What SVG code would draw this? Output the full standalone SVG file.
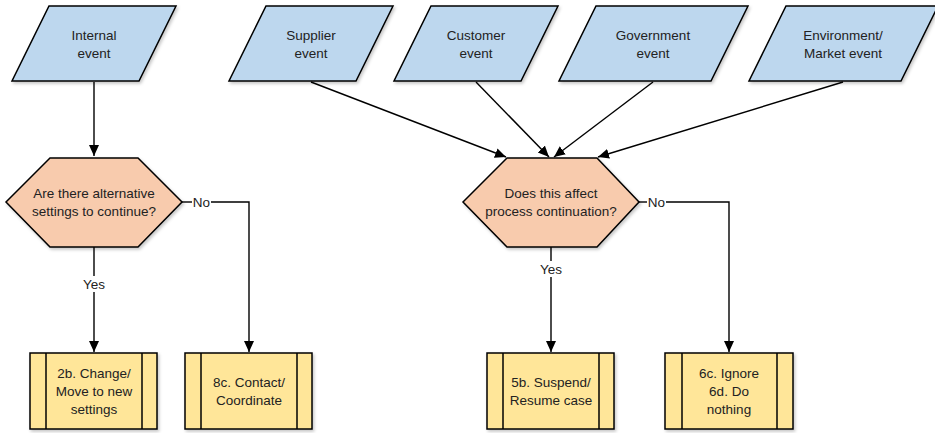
<svg xmlns="http://www.w3.org/2000/svg" width="935" height="433" viewBox="0 0 935 433">
  <defs>
    <marker id="arrow" markerWidth="12" markerHeight="11" refX="11" refY="5" orient="auto" markerUnits="userSpaceOnUse">
      <path d="M0,0 L11,5 L0,10 z" fill="#000"/>
    </marker>
    <filter id="shadow" x="-10%" y="-10%" width="125%" height="130%">
      <feDropShadow dx="1.5" dy="2" stdDeviation="1.5" flood-color="#000" flood-opacity="0.22"/>
    </filter>
  </defs>
  <style>
    .event { fill: #BDD7EE; stroke: #000; stroke-width: 1.5; filter: url(#shadow); }
    .decision { fill: #F8CBAD; stroke: #000; stroke-width: 1.5; filter: url(#shadow); }
    .process { fill: #FFE699; stroke: #000; stroke-width: 1.5; filter: url(#shadow); }
    .bar { stroke: #000; stroke-width: 1.5; }
    .conn { fill: none; stroke: #000; stroke-width: 1.4; }
    .arr { marker-end: url(#arrow); }
    text { font-family: "Liberation Sans", Arial, sans-serif; font-size: 13.5px; fill: #222; text-anchor: middle; }
  </style>

  <rect width="935" height="433" fill="#fff"/>

  <!-- Connectors -->
  <g id="connectors">
    <path class="conn arr" d="M94,82 L94,156"/>
    <path class="conn arr" d="M311,82 L506,157"/>
    <path class="conn arr" d="M476,82 L549,157"/>
    <path class="conn arr" d="M653,82 L554,157"/>
    <path class="conn arr" d="M843,82 L598,157"/>

    <!-- decision 1 branches -->
    <path class="conn" d="M94,247 L94,276"/>
    <path class="conn arr" d="M94,292 L94,352"/>
    <path class="conn" d="M182,202 L192,202"/>
    <path class="conn arr" d="M211,202 L249,202 L249,352"/>
    <text x="94" y="289">Yes</text>
    <text x="201.5" y="206.5">No</text>

    <!-- decision 2 branches -->
    <path class="conn" d="M551,247 L551,261"/>
    <path class="conn arr" d="M551,277 L551,352"/>
    <path class="conn" d="M639,202 L647,202"/>
    <path class="conn arr" d="M666,202 L729,202 L729,352"/>
    <text x="551" y="274">Yes</text>
    <text x="656.5" y="206.5">No</text>
  </g>

  <!-- Trigger events -->
  <g id="internal-event">
    <polygon class="event" points="49,6 176,6 139,81 12,81"/>
    <text x="94" y="40">Internal</text>
    <text x="94" y="58">event</text>
  </g>
  <g id="supplier-event">
    <polygon class="event" points="266,6 393,6 356,81 229,81"/>
    <text x="311" y="40">Supplier</text>
    <text x="311" y="58">event</text>
  </g>
  <g id="customer-event">
    <polygon class="event" points="431,6 558,6 521,81 394,81"/>
    <text x="476" y="40">Customer</text>
    <text x="476" y="58">event</text>
  </g>
  <g id="government-event">
    <polygon class="event" points="596,6 748,6 711,81 559,81"/>
    <text x="653" y="40">Government</text>
    <text x="653" y="58">event</text>
  </g>
  <g id="environment-event">
    <polygon class="event" points="786,6 938,6 901,81 749,81"/>
    <text x="843" y="40">Environment/</text>
    <text x="843" y="58">Market event</text>
  </g>

  <!-- Decisions -->
  <g id="alternative-settings">
    <polygon class="decision" points="50,158 138,158 182,202 138,247 50,247 6,202"/>
    <text x="94" y="198">Are there alternative</text>
    <text x="94" y="216">settings to continue?</text>
  </g>
  <g id="affects-continuation">
    <polygon class="decision" points="507,158 597,158 639,202 597,247 507,247 463,202"/>
    <text x="551" y="198">Does this affect</text>
    <text x="551" y="216">process continuation?</text>
  </g>

  <!-- Predefined processes -->
  <g id="change-settings">
    <rect class="process" x="30" y="353" width="127" height="76"/>
    <line class="bar" x1="46" y1="353" x2="46" y2="429"/>
    <line class="bar" x1="142" y1="353" x2="142" y2="429"/>
    <text x="94" y="378">2b. Change/</text>
    <text x="94" y="396">Move to new</text>
    <text x="94" y="414">settings</text>
  </g>
  <g id="contact-coordinate">
    <rect class="process" x="185" y="353" width="127" height="76"/>
    <line class="bar" x1="201" y1="353" x2="201" y2="429"/>
    <line class="bar" x1="297" y1="353" x2="297" y2="429"/>
    <text x="249" y="387">8c. Contact/</text>
    <text x="249" y="405">Coordinate</text>
  </g>
  <g id="suspend-resume">
    <rect class="process" x="487" y="353" width="127" height="76"/>
    <line class="bar" x1="503" y1="353" x2="503" y2="429"/>
    <line class="bar" x1="599" y1="353" x2="599" y2="429"/>
    <text x="551" y="387">5b. Suspend/</text>
    <text x="551" y="405">Resume case</text>
  </g>
  <g id="ignore">
    <rect class="process" x="665" y="353" width="128" height="76"/>
    <line class="bar" x1="682" y1="353" x2="682" y2="429"/>
    <line class="bar" x1="777" y1="353" x2="777" y2="429"/>
    <text x="729" y="378">6c. Ignore</text>
    <text x="729" y="396">6d. Do</text>
    <text x="729" y="414">nothing</text>
  </g>
</svg>
